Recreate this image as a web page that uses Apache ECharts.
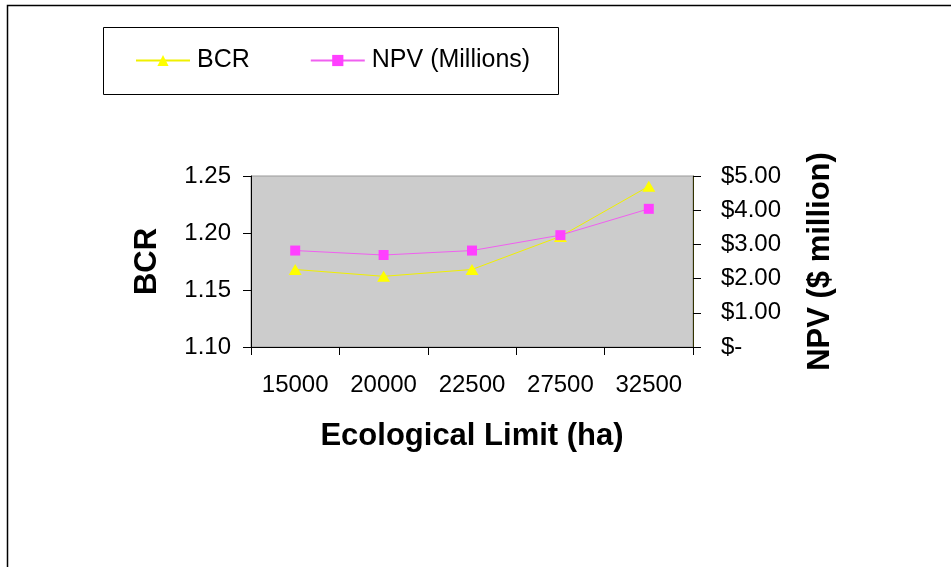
<!DOCTYPE html>
<html>
<head>
<meta charset="utf-8">
<script src="https://cdn.jsdelivr.net/npm/echarts@6/dist/echarts.min.js"></script>
<style>html,body{margin:0;padding:0;background:#fff;}#c{width:951px;height:567px;}</style>
</head>
<body>
<div id="c"></div>
<script>
const categories = ['15000', '20000', '22500', '27500', '32500'];
const bcrValues = [1.168, 1.162, 1.168, 1.197, 1.241];
const npvValues = [2.82, 2.69, 2.82, 3.27, 4.04];
const bcrTicks = { min: 1.10, max: 1.25, interval: 0.05 };
const npvTicks = { min: 0, max: 5, interval: 1 };

const chart = echarts.init(document.getElementById('c'), null, { renderer: 'canvas' });
const FONT = 'Liberation Sans, Arial, sans-serif';
chart.setOption({
  animation: false,
  backgroundColor: '#ffffff',
  graphic: [
    { type: 'rect', shape: { x: 7.5, y: 5.5, width: 1000, height: 600 }, style: { fill: 'none', stroke: '#000', lineWidth: 1.5 }, z: -1 },
    { type: 'rect', shape: { x: 103.5, y: 27.5, width: 455, height: 67 }, style: { fill: '#fff', stroke: '#000', lineWidth: 1 }, z: 0 }
  ],
  legend: {
    left: 130, top: 43,
    itemWidth: 54, itemHeight: 14, itemGap: 60,
    textStyle: { fontFamily: FONT, fontSize: 25, color: '#000', padding: [0, 0, 0, 2] },
    data: ['BCR', 'NPV (Millions)'],
    z: 5
  },
  grid: {
    left: 251, right: 258, top: 176, bottom: 220,
    show: true, backgroundColor: '#CCCCCC', borderColor: '#999999', borderWidth: 1
  },
  xAxis: {
    type: 'category', data: categories, boundaryGap: true,
    axisLine: { lineStyle: { color: '#000', width: 1 } },
    axisTick: { show: true, length: 8, lineStyle: { color: '#000' } },
    axisLabel: { fontFamily: FONT, fontSize: 24, color: '#000', margin: 26 },
    name: 'Ecological Limit (ha)', nameLocation: 'middle', nameGap: 74,
    nameTextStyle: { fontFamily: FONT, fontSize: 31, fontWeight: 'bold', color: '#000' }
  },
  yAxis: [
    {
      type: 'value', position: 'left', min: bcrTicks.min, max: bcrTicks.max, interval: bcrTicks.interval,
      axisLine: { show: true, lineStyle: { color: '#000' } },
      axisTick: { show: true, length: 8, lineStyle: { color: '#000' } },
      splitLine: { show: false },
      axisLabel: { fontFamily: FONT, fontSize: 24, color: '#000', margin: 20, formatter: v => v.toFixed(2) },
      name: 'BCR', nameLocation: 'middle', nameGap: 88,
      nameTextStyle: { fontFamily: FONT, fontSize: 31, fontWeight: 'bold', color: '#000' }
    },
    {
      type: 'value', position: 'right', min: npvTicks.min, max: npvTicks.max, interval: npvTicks.interval,
      axisLine: { show: true, lineStyle: { color: '#333300' } },
      axisTick: { show: true, length: 8, lineStyle: { color: '#000' } },
      splitLine: { show: false },
      axisLabel: { fontFamily: FONT, fontSize: 24, color: '#000', margin: 28, formatter: v => v === 0 ? '$-' : '$' + v.toFixed(2) },
      name: 'NPV ($ million)', nameLocation: 'middle', nameGap: 112,
      nameTextStyle: { fontFamily: FONT, fontSize: 31, fontWeight: 'bold', color: '#000' }
    }
  ],
  series: [
    {
      name: 'BCR', type: 'line', yAxisIndex: 0, data: bcrValues,
      symbol: 'triangle', symbolSize: [13, 11],
      itemStyle: { color: '#FFFF00' },
      lineStyle: { color: '#F0F000', width: 1 }
    },
    {
      name: 'NPV (Millions)', type: 'line', yAxisIndex: 1, data: npvValues,
      symbol: 'rect', symbolSize: 10,
      itemStyle: { color: '#FF40FF' },
      lineStyle: { color: '#F060F0', width: 1 }
    }
  ]
});
</script>
</body>
</html>
